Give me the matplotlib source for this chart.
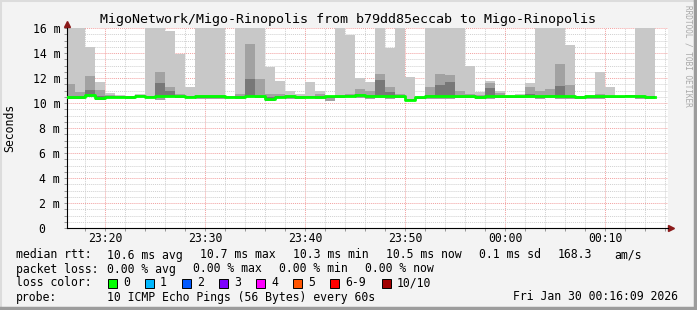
import matplotlib
matplotlib.use("Agg")
import matplotlib.pyplot as plt
import numpy as np
from matplotlib.patches import Rectangle
from matplotlib.lines import Line2D
from matplotlib.ticker import MultipleLocator

# minutes after 23:00, one bar per minute
start_min = 16
ping_max = [17, 17, 14.45, 11.7, 10.8, 10.65, 10.6, 10.7, 17, 17,
            15.75, 13.9, 11.3, 17, 17, 17, 10.6, 17, 17, 17,
            12.9, 11.8, 10.95, 10.7, 11.7, 11.0, 10.6, 17, 15.4, 12.0,
            11.7, 17, 14.4, 17, 12.05, 10.6, 17, 17, 17, 17,
            12.95, 10.9, 11.75, 10.95, 10.65, 10.7, 11.6, 17, 17, 17,
            14.65, 10.6, 10.65, 12.5, 11.25, 10.6, 10.65, 17, 17]
ping_hi = [11.5, 10.9, 12.15, 11.05, 10.65, 10.6, 10.55, 10.65, 10.6, 12.5,
           11.3, 10.7, 10.6, 10.65, 10.65, 10.65, 10.55, 10.7, 14.75, 11.95,
           10.7, 10.75, 10.65, 10.6, 10.6, 10.7, 10.6, 10.65, 10.7, 11.1,
           11.0, 12.3, 11.3, 10.7, 10.35, 10.5, 11.3, 12.3, 12.25, 10.95,
           10.7, 10.65, 11.6, 10.8, 10.6, 10.6, 11.3, 11.0, 11.1, 13.15,
           11.45, 10.6, 10.6, 10.7, 10.6, 10.6, 10.65, 10.65, 10.6]
ping_mid = [10.6, 10.6, 11.05, 10.55, 10.6, 10.55, 10.55, 10.65, 10.55, 11.6,
            11.0, 10.6, 10.55, 10.6, 10.6, 10.6, 10.5, 10.55, 11.95, 10.6,
            10.5, 10.6, 10.6, 10.55, 10.55, 10.55, 10.55, 10.6, 10.65, 10.7,
            10.65, 11.85, 10.9, 10.6, 10.3, 10.5, 10.65, 11.45, 11.7, 10.6,
            10.6, 10.55, 11.2, 10.6, 10.6, 10.6, 10.7, 10.6, 10.65, 11.4,
            10.6, 10.55, 10.6, 10.6, 10.6, 10.6, 10.65, 10.6, 10.55]
ping_min = [10.3, 10.35, 10.45, 10.3, 10.4, 10.4, 10.3, 10.45, 10.4, 10.27,
            10.45, 10.4, 10.4, 10.3, 10.3, 10.35, 10.4, 10.3, 10.45, 10.4,
            10.25, 10.4, 10.35, 10.35, 10.4, 10.35, 10.2, 10.4, 10.45, 10.4,
            10.35, 10.4, 10.3, 10.4, 10.2, 10.35, 10.35, 10.3, 10.35, 10.4,
            10.4, 10.35, 10.35, 10.4, 10.4, 10.45, 10.4, 10.3, 10.4, 10.35,
            10.3, 10.35, 10.35, 10.3, 10.4, 10.4, 10.45, 10.35, 10.35]
median = [10.45, 10.45, 10.65, 10.4, 10.5, 10.5, 10.5, 10.6, 10.5, 10.6,
          10.6, 10.55, 10.5, 10.55, 10.55, 10.55, 10.5, 10.5, 10.6, 10.55,
          10.3, 10.5, 10.55, 10.5, 10.5, 10.5, 10.55, 10.55, 10.6, 10.65,
          10.6, 10.6, 10.6, 10.55, 10.25, 10.45, 10.6, 10.6, 10.6, 10.55,
          10.55, 10.5, 10.6, 10.55, 10.55, 10.55, 10.6, 10.55, 10.6, 10.6,
          10.55, 10.5, 10.55, 10.55, 10.55, 10.55, 10.6, 10.55, 10.5]
tick_pos = [20, 30, 40, 50, 60, 70]
tick_labels = ["23:20", "23:30", "23:40", "23:50", "00:00", "00:10"]
loss_colors = ["#00ff00", "#00b8ff", "#0059ff", "#7e00ff", "#ff00ff", "#ff5500", "#ff0000", "#a10000"]
loss_labels = ["0", "1", "2", "3", "4", "5", "6-9", "10/10"]

W, H = 697, 310
mono = "DejaVu Sans Mono"
plt.rcParams["font.family"] = mono

fig = plt.figure(figsize=(W / 100, H / 100), dpi=100, facecolor="#f3f3f3")
ax = fig.add_axes([67 / W, 1 - 228 / H, (668 - 67) / W, 200 / H])
ax.set_facecolor("white")

x = start_min + np.arange(len(median))
pmax = np.array(ping_max)
phi = np.array(ping_hi)
pmid = np.array(ping_mid)
pmin = np.array(ping_min)
med = np.array(median)

# smoke
ax.bar(x, pmax - pmin, bottom=pmin, width=1, align="edge", color="#c8c8c8", lw=0, zorder=2)
ax.bar(x, phi - pmin, bottom=pmin, width=1, align="edge", color="#a2a2a2", lw=0, zorder=2)
ax.bar(x, pmid - (med - 0.12), bottom=med - 0.12, width=1, align="edge", color="#787878", lw=0, zorder=2)
# median line
xs = np.append(x, x[-1] + 1)
ys = np.append(med, med[-1])
ax.step(xs, ys, where="post", color="#00ff00", lw=2.0, zorder=3)

ax.set_xlim(16.2, 76.3)
ax.set_ylim(0, 16)

# grid
ax.xaxis.set_major_locator(MultipleLocator(10))
ax.xaxis.set_minor_locator(MultipleLocator(2))
ax.yaxis.set_major_locator(MultipleLocator(2))
ax.yaxis.set_minor_locator(MultipleLocator(0.5))
ax.grid(which="minor", color="#d0d0d0", ls=(0, (1, 1)), lw=0.7, zorder=1)
ax.grid(which="major", color="#f2a0a0", ls=(0, (1, 1)), lw=0.7, zorder=1)
ax.set_axisbelow(True)

ax.set_xticks(tick_pos)
ax.set_xticklabels(tick_labels)
yt = np.arange(0, 17, 2)
ax.set_yticks(yt)
ax.set_yticklabels(["%d m" % v if v else "0  " for v in yt])
ax.tick_params(which="both", labelsize=8.3, length=2, width=0.6, color="#888888", pad=3)
ax.tick_params(axis="x", pad=1)

for s in ["top", "right"]:
    ax.spines[s].set_visible(False)
ax.spines["left"].set_linewidth(0.8)
ax.spines["bottom"].set_linewidth(0.8)
# axis arrows
ax.plot([76.3, 76.6], [0, 0], color="black", lw=0.8, clip_on=False)
ax.plot(76.6, 0, marker=">", color="#8b1a1a", ms=4, clip_on=False)
ax.plot(16.2, 16.3, marker="^", color="#8b1a1a", ms=4, clip_on=False)

ax.set_ylabel("Seconds", fontsize=8.3, labelpad=12)

def ftext(px, py, s, **kw):
    fig.text(px / W, 1 - py / H, s, va="center", **kw)

ftext(348, 19, "MigoNetwork/Migo-Rinopolis from b79dd85eccab to Migo-Rinopolis", fontsize=9.6, ha="center")
fig.text(688 / W, 1 - 5 / H, "RRDTOOL / TOBI OETIKER", rotation=270, fontsize=5.6,
         color="#a8a8a8", ha="center", va="top")

fs = 8.3
ftext(16, 255, "median rtt:", fontsize=fs)
for px, s in [(107, "10.6 ms avg"), (200, "10.7 ms max"), (293, "10.3 ms min"),
              (386, "10.5 ms now"), (479, "0.1 ms sd"), (558, "168.3"), (614, "am/s")]:
    ftext(px, 255, s, fontsize=fs)
ftext(16, 269, "packet loss:", fontsize=fs)
for px, s in [(107, "0.00 % avg"), (193, "0.00 % max"), (279, "0.00 % min"), (365, "0.00 % now")]:
    ftext(px, 269, s, fontsize=fs)
ftext(16, 283, "loss color:", fontsize=fs)
box_x = [108, 145, 182, 219, 256, 293, 330, 382]
for bx, c, lab in zip(box_x, loss_colors, loss_labels):
    fig.add_artist(Rectangle((bx / W, 1 - 288 / H), 9 / W, 9 / H, transform=fig.transFigure,
                             facecolor=c, edgecolor="black", lw=0.7))
    ftext(bx + 15, 283, lab, fontsize=fs)
ftext(16, 297, "probe:", fontsize=fs)
ftext(107, 297, "10 ICMP Echo Pings (56 Bytes) every 60s", fontsize=fs)
ftext(513, 297, "Fri Jan 30 00:16:09 2026", fontsize=fs)

# image border
fig.add_artist(Line2D([0, 1], [1 - 1 / H, 1 - 1 / H], transform=fig.transFigure, color="#dcdcdc", lw=1.5))
fig.add_artist(Line2D([1 / W, 1 / W], [0, 1], transform=fig.transFigure, color="#dcdcdc", lw=1.5))
fig.add_artist(Line2D([0, 1], [2 / H, 2 / H], transform=fig.transFigure, color="#9c9c9c", lw=2.5))
fig.add_artist(Line2D([1 - 2 / W, 1 - 2 / W], [0, 1], transform=fig.transFigure, color="#9c9c9c", lw=2.5))

fig.savefig("out.png", dpi=100, facecolor=fig.get_facecolor())
